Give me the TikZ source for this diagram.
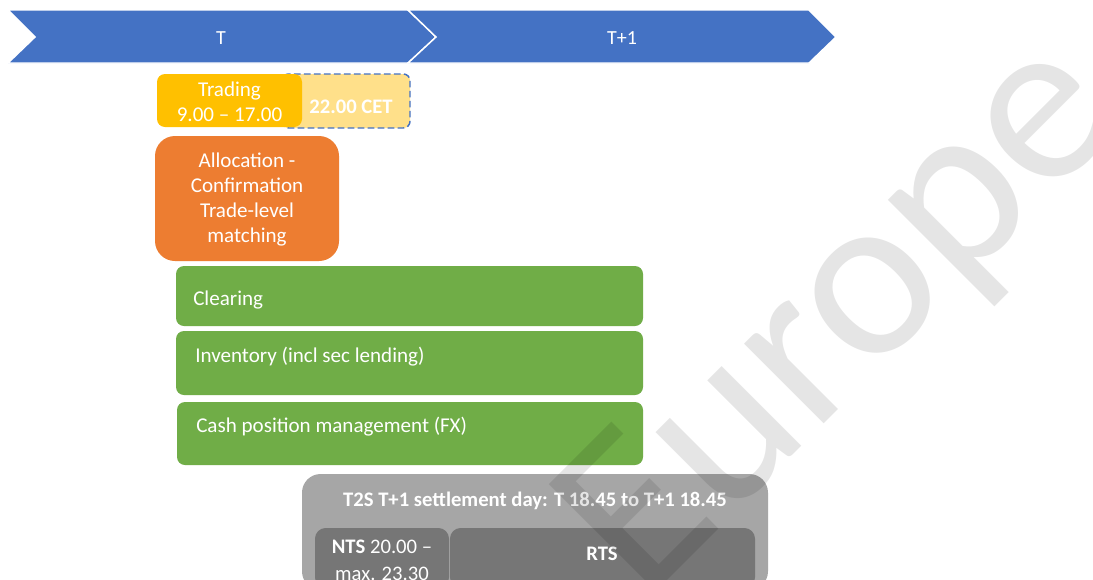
\documentclass[tikz,border=0pt]{standalone}
\usepackage{fontspec}
\setmainfont{Carlito}
\definecolor{cblue}{HTML}{4472C4}
\definecolor{ctrade}{HTML}{FFC000}
\definecolor{clight}{HTML}{FFE08A}
\definecolor{corange}{HTML}{ED7D31}
\definecolor{cgreen}{HTML}{70AD47}
\definecolor{cgrayout}{HTML}{A6A6A6}
\definecolor{cgrayin}{HTML}{767676}
\tikzset{
  chev/.style={fill=cblue, draw=white, line width=1.1pt},
  wtext/.style={text=white, inner sep=0pt, font=\fontsize{15.8}{18.75}\selectfont},
  ttext/.style={text=white, inner sep=0pt, font=\fontsize{15}{18}\selectfont},
  greenbox/.style={fill=cgreen, rounded corners=6pt},
}
\begin{document}
\begin{tikzpicture}[x=0.75pt,y=-0.75pt]
\clip (0,0) rectangle (1093,579);
\fill[white] (0,0) rectangle (1093,579);

% chevrons
\path[chev] (8,10) -- (408,10) -- (436,37) -- (408,63) -- (8,63) -- (35,37) -- cycle;
\path[chev] (408,10) -- (809,10) -- (836,37) -- (809,63) -- (408,63) -- (436,37) -- cycle;
\node[ttext, anchor=base] (tT) at (221,44) {T};
\node[ttext, anchor=base] (tT1) at (622,44) {T+1};

% trading
\path[fill=clight, draw=cblue, line width=1.1pt, dash pattern=on 5pt off 2.5pt, rounded corners=5pt] (282,74) rectangle (410,128);
\path[fill=ctrade, rounded corners=6pt] (157,74) rectangle (302,127);
\node[wtext, align=center, anchor=center] (trading) at (229.5,102) {Trading\\9.00 -- 17.00};
\node[wtext, anchor=base, font=\fontsize{15.5}{18}\selectfont\bfseries] (cet) at (351,113) {22.00 CET};

% allocation
\path[fill=corange, rounded corners=15pt] (155,136) rectangle (339,261);
\node[wtext, align=center, anchor=center] (alloc) at (247,199) {Allocation -\\Confirmation\\Trade-level\\matching};

% green boxes
\path[greenbox] (176,266) rectangle (643,326);
\node[wtext, anchor=base west] (clear) at (193,305) {Clearing};
\path[greenbox] (176,331) rectangle (643,395);
\node[wtext, anchor=base west] (inv) at (195,362) {Inventory (incl sec lending)};
\path[greenbox] (177,402) rectangle (643,465);
\node[wtext, anchor=base west] (cash) at (196,432) {Cash position management (FX)};

% T2S
\path[fill=cgrayout, rounded corners=14pt] (302,474) rectangle (768,590);
\node[wtext, anchor=base, font=\fontsize{15.5}{18}\selectfont\bfseries] (t2s) at (535,506) {T2S T+1 settlement day: T 18.45 to T+1 18.45};
\path[fill=cgrayin, rounded corners=8pt] (315,528) rectangle (449,588);
\path[fill=cgrayin, rounded corners=8pt] (450,528) rectangle (755,588);
\node[wtext, align=center, anchor=center, font=\fontsize{15.5}{20.25}\selectfont] (nts) at (382,560) {\textbf{NTS} 20.00 --\\max. 23.30};
\node[wtext, anchor=base, font=\fontsize{15.5}{18}\selectfont\bfseries] (rts) at (602,560) {RTS};

% watermark
\node[rotate=45, anchor=base west, inner sep=0pt, text=black, text opacity=0.1, font=\fontsize{177}{177}\selectfont] (wm) at (644,604) {Europe};
\end{tikzpicture}
\end{document}
